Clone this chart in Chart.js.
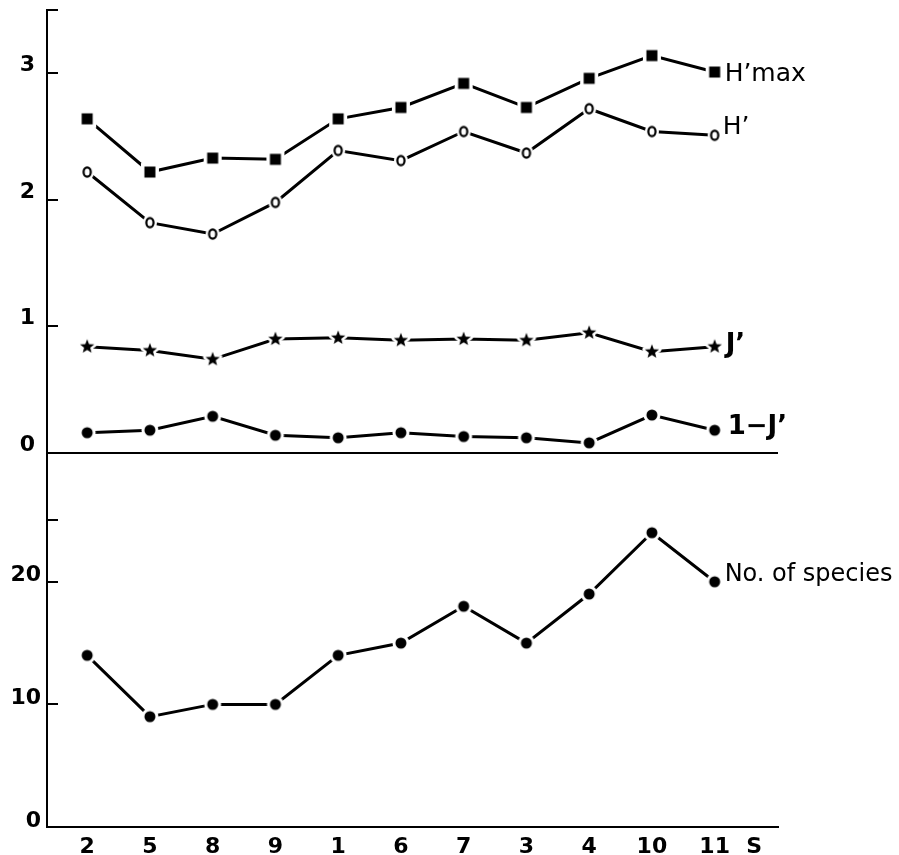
<!DOCTYPE html>
<html>
<head>
<meta charset="utf-8">
<script src="https://cdn.jsdelivr.net/npm/chart.js@4.4.1/dist/chart.umd.min.js"></script>
<style>
  html, body { margin: 0; padding: 0; background: #fff; }
  #wrap { width: 899px; height: 855px; position: relative; }
</style>
</head>
<body>
<div id="wrap"><canvas id="chart"></canvas></div>
<script>
// stations along the x axis, in plotted order
const categories = ['2', '5', '8', '9', '1', '6', '7', '3', '4', '10', '11'];
const xTitle = 'S';

// upper panel (diversity indices)
const hMax     = [2.64, 2.22, 2.33, 2.32, 2.64, 2.73, 2.92, 2.73, 2.96, 3.14, 3.01];
const hPrime   = [2.22, 1.82, 1.73, 1.98, 2.39, 2.31, 2.54, 2.37, 2.72, 2.54, 2.51];
const evenness = [0.84, 0.81, 0.74, 0.90, 0.91, 0.89, 0.90, 0.89, 0.95, 0.80, 0.84];
const oneMinusJ = [0.16, 0.18, 0.29, 0.14, 0.12, 0.16, 0.13, 0.12, 0.08, 0.30, 0.18];

// lower panel
const species = [14, 9, 10, 10, 14, 15, 18, 15, 19, 24, 20];

// tick values (unlabelled ones are just marks on the axis)
const topTicks = [0, 1, 2, 3, 3.5];
const topLabels = ['0', '1', '2', '3', ''];
const bottomTicks = [0, 10, 20, 25];
const bottomLabels = ['0', '10', '20', ''];

const toXY = arr => arr.map((v, i) => ({ x: i, y: v }));

// markers with a white halo so the line stops short of each symbol
function marker(kind) {
  const c = document.createElement('canvas');
  c.width = 24; c.height = 24;
  const g = c.getContext('2d');
  const cx = 12, cy = 12;
  function starPath(ro, ri) {
    g.beginPath();
    for (let i = 0; i < 10; i++) {
      const r = i % 2 ? ri : ro;
      const a = -Math.PI / 2 + i * Math.PI / 5;
      g.lineTo(cx + r * Math.cos(a), cy + r * Math.sin(a));
    }
    g.closePath();
  }
  g.fillStyle = '#fff';
  g.strokeStyle = '#fff';
  if (kind === 'square') {
    g.fillRect(cx - 9, cy - 9, 18, 18);
    g.fillStyle = '#000';
    g.fillRect(cx - 5.5, cy - 5.5, 11, 11);
  } else if (kind === 'ring') {
    g.beginPath(); g.ellipse(cx, cy, 7, 8, 0, 0, Math.PI * 2); g.fill();
    g.strokeStyle = '#000'; g.lineWidth = 2.2;
    g.beginPath(); g.ellipse(cx, cy, 3.6, 4.6, 0, 0, Math.PI * 2); g.stroke();
  } else if (kind === 'star') {
    starPath(7.5, 3.2); g.lineWidth = 5; g.lineJoin = 'round'; g.stroke(); g.fill();
    g.fillStyle = '#000';
    starPath(7.5, 3.2); g.fill();
  } else {
    g.beginPath(); g.arc(cx, cy, 8.5, 0, Math.PI * 2); g.fill();
    g.fillStyle = '#000';
    g.beginPath(); g.arc(cx, cy, 5.5, 0, Math.PI * 2); g.fill();
  }
  return c;
}

function series(label, data, axis, kind, endLabel) {
  return {
    label, data: toXY(data), yAxisID: axis,
    borderColor: '#000', borderWidth: 3, tension: 0,
    pointStyle: marker(kind), pointRadius: 5, pointHoverRadius: 5,
    fill: false, endLabel
  };
}

const endLabels = {
  id: 'endLabels',
  afterDatasetsDraw(chart) {
    const ctx = chart.ctx;
    chart.data.datasets.forEach((ds, i) => {
      const lab = ds.endLabel;
      if (!lab) return;
      const pts = chart.getDatasetMeta(i).data;
      const p = pts[pts.length - 1];
      ctx.save();
      ctx.fillStyle = '#000';
      ctx.font = lab.font;
      ctx.textAlign = 'left';
      ctx.textBaseline = 'alphabetic';
      ctx.fillText(lab.text, p.x + lab.dx, p.y + lab.dy);
      ctx.restore();
    });
  }
};

// short tick marks pointing into the plot
const innerTicks = {
  id: 'innerTicks',
  afterDraw(chart) {
    const ctx = chart.ctx;
    ['ySp', 'yIdx'].forEach(id => {
      const s = chart.scales[id];
      ctx.save();
      ctx.strokeStyle = '#000';
      ctx.lineWidth = 2;
      s.ticks.forEach(t => {
        if (t.value === 0) return;
        const y = Math.round(s.getPixelForValue(t.value));
        ctx.beginPath();
        ctx.moveTo(s.right, y);
        ctx.lineTo(s.right + 11, y);
        ctx.stroke();
      });
      ctx.restore();
    });
  }
};

const tickFont = { family: 'DejaVu Sans', size: 22, weight: 'bold' };

function fitY(s) {
  s.width = 47;
  s.paddingTop = 0;
  s.paddingBottom = 0;
}

new Chart(document.getElementById('chart'), {
  type: 'line',
  data: {
    datasets: [
      series('H\u2019max', hMax, 'yIdx', 'square',
        { text: 'H\u2019max', font: '25px "DejaVu Sans"', dx: 10, dy: 9 }),
      series('H\u2019', hPrime, 'yIdx', 'ring',
        { text: 'H\u2019', font: '25px "DejaVu Sans"', dx: 8, dy: -1 }),
      series('J\u2019', evenness, 'yIdx', 'star',
        { text: 'J\u2019', font: 'bold 26px "DejaVu Sans"', dx: 11, dy: 5 }),
      series('1\u2212J\u2019', oneMinusJ, 'yIdx', 'dot',
        { text: '1\u2212J\u2019', font: 'bold 26px "DejaVu Sans"', dx: 13, dy: 4 }),
      series('No. of species', species, 'ySp', 'dot',
        { text: 'No. of species', font: '24px "DejaVu Sans"', dx: 10, dy: -1 })
    ]
  },
  options: {
    responsive: true,
    maintainAspectRatio: false,
    animation: false,
    events: [],
    layout: { padding: { top: 10, right: 121, left: 0, bottom: 0 } },
    plugins: { legend: { display: false }, tooltip: { enabled: false } },
    scales: {
      x: {
        type: 'linear',
        min: -0.64, max: 11.01,
        afterFit: s => { s.height = 28; },
        afterBuildTicks: s => {
          s.ticks = categories.map((c, i) => ({ value: i }));
          s.ticks.push({ value: 10.63 });
        },
        grid: { display: false, drawTicks: false },
        border: { display: true, color: '#000', width: 2 },
        ticks: {
          autoSkip: false, maxRotation: 0, padding: 7,
          color: '#000', font: tickFont,
          callback: v => Number.isInteger(v) ? categories[v] : xTitle
        }
      },
      ySp: {
        type: 'linear', position: 'left',
        stack: 'panels', stackWeight: 374,
        min: 0, max: 30.5,
        afterFit: fitY,
        afterBuildTicks: s => { s.ticks = bottomTicks.map(v => ({ value: v })); },
        grid: { display: false, drawTicks: false },
        border: { display: true, color: '#000', width: 2 },
        ticks: {
          autoSkip: false, padding: 6, labelOffset: -6,
          color: '#000', font: tickFont,
          callback: (v, i) => bottomLabels[i]
        }
      },
      yIdx: {
        type: 'linear', position: 'left',
        stack: 'panels', stackWeight: 443,
        min: 0, max: 3.5,
        afterFit: fitY,
        afterBuildTicks: s => { s.ticks = topTicks.map(v => ({ value: v })); },
        grid: {
          drawTicks: false,
          color: c => c.tick && c.tick.value === 0 ? '#000' : 'rgba(0,0,0,0)',
          lineWidth: 2
        },
        border: { display: true, color: '#000', width: 2 },
        ticks: {
          autoSkip: false, padding: 12, labelOffset: -8,
          color: '#000', font: tickFont,
          callback: (v, i) => topLabels[i]
        }
      }
    }
  },
  plugins: [endLabels, innerTicks]
});
</script>
</body>
</html>
